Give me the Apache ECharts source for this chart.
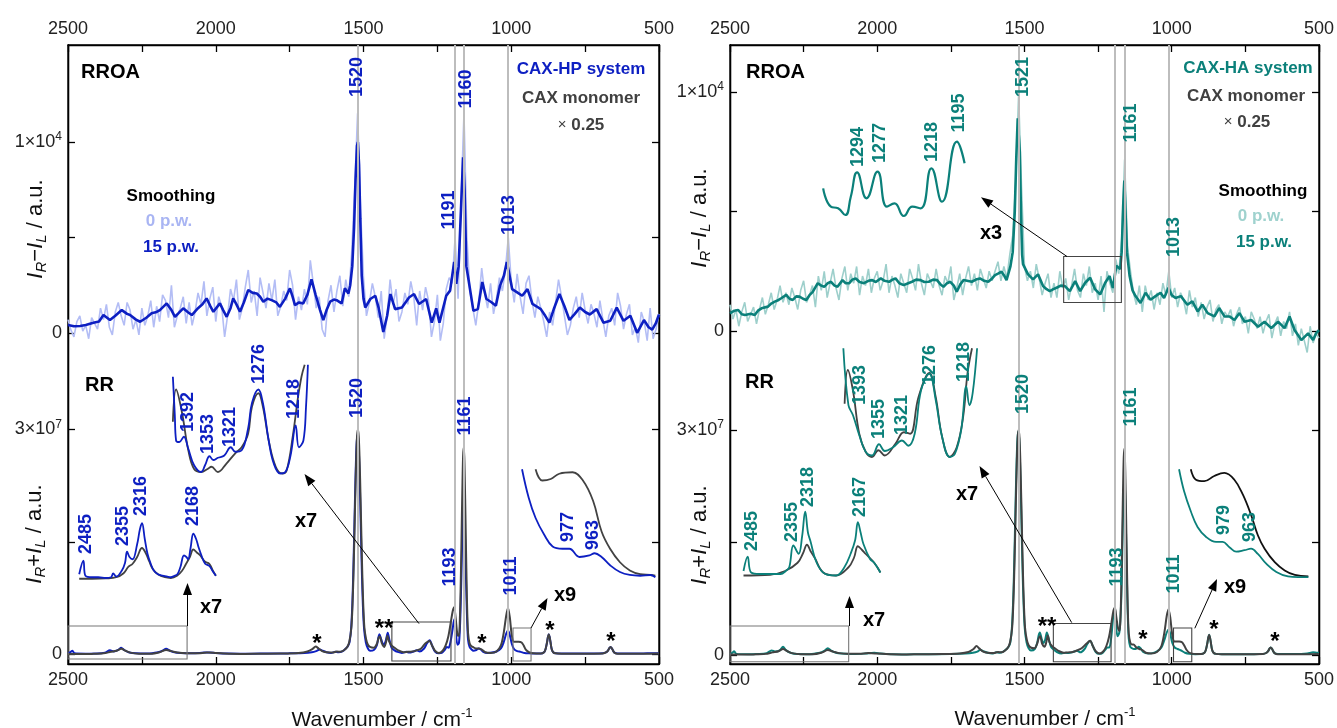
<!DOCTYPE html>
<html><head><meta charset="utf-8">
<script src="https://cdn.jsdelivr.net/npm/echarts@6/dist/echarts.min.js"></script>
<style>html,body{margin:0;padding:0;background:#fff}#c{width:1337px;height:728px}</style>
</head><body><div id="c"></div>
<script>
// ---------------- DATA ----------------
const wnTicks = [2500,2250,2000,1750,1500,1250,1000,750,500];
const wnLabels = [2500,2000,1500,1000,500];
const rroaTicks = [0,5000,10000];
const rroaLabels = [0,10000];
const rrTicks = [0,15,30];      // x10^6
const rrLabels = [0,30];
const linesL = [1520,1191,1160,1013];
const linesR = [1521,1193,1161,1011];

// RROA raw (0 p.w.), sampled every 10 cm-1 from 2500 down to 500
const rawStart = 2500, rawStep = 10;
const rroaRawL = [
700,150,-200,600,900,100,400,-300,800,500,
200,1300,700,1500,300,-100,1100,1600,900,400,
1600,1200,200,700,-100,1300,400,900,1700,300,
1400,600,2000,1700,800,2500,300,900,1300,1900,
500,1600,400,1100,2100,1500,2700,900,1800,2400,
600,1900,1400,-200,900,2300,1700,2800,700,1300,
2400,3300,1600,2200,900,2900,2100,1300,2600,1700,
2800,900,1400,2200,1700,3300,2500,700,1900,1200,
2300,1500,3800,2600,1300,1900,200,-200,1700,2500,
1100,2200,3000,1400,2800,1900,4200,7500,11500,6500,
2900,900,1600,2600,1900,800,2200,-300,900,2800,
1500,2300,600,1100,2100,1500,2700,1900,400,2200,
1200,2400,1700,-200,600,2000,-400,500,2300,2900,
2600,5000,1800,6800,11500,5000,2200,1300,400,1600,
3400,2100,1300,2600,1000,1800,2900,2200,3300,5000,
2700,1600,3100,1900,1000,2600,3000,1700,800,1900,
1300,600,-200,1100,400,1600,2800,1900,900,-100,
400,1300,1900,800,2100,1200,500,1500,1000,300,
1700,700,-200,900,1300,400,2100,1400,200,1000,
1500,-100,300,-500,1100,600,-400,1300,-300,200,
1000];
const rroaRawR = [
1100,500,900,200,800,1200,400,700,1000,300,
900,1400,700,1100,1600,900,1300,1900,1200,1600,
1100,1800,1400,900,1700,2100,1200,1500,1900,1000,
2300,1700,2500,1400,2000,2600,1800,1300,2200,2700,
1700,2400,2000,2700,1500,2300,1900,2600,1600,2200,
2500,1700,2100,2800,1600,2300,1900,1400,2400,2000,
1600,2600,2200,1700,2800,2000,1500,2400,2100,1800,
2600,1900,1500,2300,2000,2700,1300,1800,2400,1500,
2200,2700,1900,2400,1700,2600,2200,1800,2500,2100,
2500,2900,2100,2700,2200,3200,4000,6200,9870,6000,
2700,2100,2500,1800,2800,2200,1500,2000,2400,1400,
2000,1400,2500,1800,2200,1300,1900,2600,1700,1400,
2400,1900,2700,1600,2000,1300,2300,800,2500,2000,
1600,3000,2400,3800,7180,3500,2500,1600,1100,1900,
800,1900,1300,1700,900,1600,1100,2000,1500,2500,
1400,1800,1000,1600,1300,700,1700,1000,1400,600,
1200,500,1000,1300,400,900,1100,300,800,600,
900,200,700,1000,300,600,-100,800,500,100,
600,-100,400,700,-300,300,600,-200,400,100,
800,-200,300,-600,100,-400,-900,200,-500,-100,
-300];

// RROA smoothed (15 p.w.)
const rroaSmoothL = [[2500,420],[2480,350],[2459,370],[2440,420],[2414,540],[2395,600],[2380,940],[2358,680],[2340,900],[2318,1200],[2300,1000],[2290,940],[2270,700],[2256,590],[2235,800],[2217,1030],[2200,1100],[2189,1200],[2166,1550],[2150,1200],[2138,850],[2125,1050],[2110,1290],[2095,1100],[2081,940],[2060,1300],[2045,1500],[2031,1810],[2018,1400],[2008,1110],[1986,1550],[1975,1200],[1963,850],[1950,1300],[1941,1810],[1930,1500],[1918,1110],[1905,1600],[1890,2250],[1875,2100],[1861,2070],[1850,1900],[1839,1640],[1825,1800],[1811,1720],[1795,1600],[1783,1370],[1765,1800],[1749,2340],[1740,1900],[1732,1460],[1718,1600],[1704,1550],[1690,2000],[1676,2810],[1662,2000],[1647,1200],[1636,680],[1625,1200],[1613,1640],[1600,1750],[1591,1720],[1574,1550],[1563,2340],[1551,2070],[1545,2500],[1538,3500],[1532,5500],[1527,8000],[1522,9800],[1519,10000],[1515,8800],[1511,6000],[1506,3000],[1500,1800],[1494,1330],[1477,1780],[1460,1950],[1449,1330],[1433,50],[1420,900],[1409,2040],[1393,1250],[1370,1330],[1346,1860],[1329,2040],[1312,1520],[1288,1780],[1269,540],[1254,1290],[1243,540],[1220,1950],[1207,2220],[1197,3300],[1193,3720],[1186,2570],[1178,3500],[1170,6500],[1163,9200],[1158,7500],[1152,3500],[1145,2830],[1128,1160],[1113,1250],[1098,2670],[1084,1780],[1067,1610],[1052,1430],[1038,2480],[1025,3000],[1015,3720],[1008,3200],[997,2300],[980,2130],[963,1950],[945,2300],[928,1520],[915,1400],[900,1250],[885,900],[871,540],[855,1300],[837,2040],[820,1400],[803,680],[785,1000],[768,1330],[750,1100],[734,970],[711,1250],[688,540],[665,640],[643,1330],[620,640],[597,900],[574,10],[551,680],[535,300],[523,180],[511,500],[500,970]];
const rroaSmoothR = [[2500,740],[2485,850],[2472,880],[2460,700],[2449,670],[2430,720],[2416,670],[2405,850],[2393,950],[2371,1020],[2360,1150],[2348,1230],[2335,1300],[2326,1370],[2309,1510],[2298,1350],[2287,1300],[2275,1450],[2264,1440],[2252,1350],[2241,1300],[2230,1500],[2219,1640],[2202,2000],[2190,1900],[2180,1850],[2168,2000],[2157,2060],[2145,1900],[2135,1850],[2118,2130],[2107,2000],[2095,2000],[2085,2150],[2073,2200],[2060,2050],[2045,2000],[2030,2100],[2017,2130],[2005,2050],[1988,2200],[1975,2100],[1960,2060],[1948,2150],[1938,2200],[1925,2000],[1910,1920],[1895,2000],[1882,2060],[1868,2150],[1853,2130],[1840,2050],[1825,2060],[1810,2150],[1797,2130],[1785,1950],[1775,1850],[1763,2000],[1752,2060],[1740,1900],[1730,1640],[1718,1950],[1707,2130],[1695,2100],[1679,2060],[1665,2150],[1651,2200],[1637,2100],[1623,2060],[1610,2200],[1600,2340],[1590,2400],[1578,2480],[1568,2300],[1561,2130],[1548,2690],[1540,3300],[1533,5000],[1528,7200],[1523,8900],[1520,8970],[1516,7500],[1512,5000],[1508,3200],[1505,2800],[1488,2370],[1471,2160],[1454,2370],[1437,1880],[1425,1750],[1414,1670],[1402,1750],[1391,1810],[1377,1900],[1363,1880],[1346,1670],[1336,1900],[1328,2090],[1311,1670],[1294,2020],[1277,2230],[1260,1740],[1243,1530],[1226,2020],[1211,2300],[1200,1800],[1188,2730],[1175,2590],[1170,3300],[1165,5200],[1161,6300],[1157,5000],[1152,3300],[1143,2300],[1133,1700],[1123,1460],[1106,1170],[1089,1600],[1072,1310],[1055,1460],[1038,1600],[1026,1380],[1011,1810],[1000,1500],[987,1380],[969,1460],[947,1100],[930,1240],[912,820],[896,1100],[878,750],[855,610],[839,960],[821,610],[804,610],[787,460],[770,750],[753,390],[730,460],[707,180],[685,390],[662,120],[639,390],[617,120],[600,610],[583,40],[560,-380],[537,-100],[520,-380],[510,-100],[500,40]];

// RR spectra (x10^6 a.u.)
const rrHP = [[2500,0.15],[2492,0.3],[2485,0.5],[2478,0.15],[2440,0.1],[2400,0.12],[2375,0.25],[2358,0.55],[2345,0.4],[2330,0.6],[2320,0.9],[2310,0.6],[2295,0.3],[2270,0.15],[2230,0.12],[2195,0.3],[2180,0.5],[2168,0.75],[2155,0.5],[2140,0.3],[2120,0.2],[2080,0.15],[2040,0.25],[2020,0.28],[2000,0.2],[1960,0.12],[1900,0.1],[1850,0.12],[1800,0.12],[1750,0.15],[1700,0.2],[1675,0.3],[1660,0.45],[1648,0.65],[1638,0.5],[1625,0.3],[1610,0.2],[1595,0.35],[1585,0.3],[1570,0.45],[1560,0.8],[1553,1.1],[1547,1.7],[1542,3.4],[1538,6.5],[1535,10.3],[1532,15.1],[1529,20.4],[1526,25.1],[1523,28.3],[1520,29.3],[1517,28.3],[1514,25.1],[1511,20.4],[1508,15.1],[1505,10.3],[1502,6.5],[1498,3.4],[1492,1.6],[1485,0.8],[1478,0.5],[1465,0.6],[1455,1.2],[1450,2.2],[1446,2.7],[1440,2.0],[1432,1.3],[1425,1.8],[1418,2.9],[1412,1.9],[1405,0.9],[1395,0.55],[1385,0.35],[1370,0.2],[1355,0.35],[1345,0.25],[1330,0.4],[1320,0.55],[1310,0.4],[1295,0.8],[1285,1.5],[1276,1.9],[1268,1.2],[1258,0.4],[1245,0.15],[1235,0.2],[1225,0.6],[1218,1.0],[1212,0.9],[1205,1.8],[1198,3.5],[1193,4.7],[1188,3.2],[1182,1.3],[1177,1.5],[1173,4.2],[1171,6.8],[1169,10],[1167,13.5],[1165,16.7],[1163,19.1],[1161,19.9],[1159,19.1],[1157,16.7],[1155,13.5],[1153,10],[1151,6.8],[1149,4.2],[1146,1.9],[1141,1.0],[1135,0.7],[1128,0.5],[1118,0.6],[1110,0.8],[1104,0.7],[1095,0.35],[1080,0.2],[1065,0.25],[1050,0.4],[1035,0.8],[1025,1.7],[1017,2.8],[1011,3.2],[1005,2.6],[998,1.4],[990,0.7],[980,0.45],[968,0.35],[955,0.2],[940,0.15],[920,0.12],[900,0.12],[889,0.3],[884,0.7],[879,1.6],[876,2.3],[873,2.7],[870,2.3],[867,1.6],[863,0.7],[858,0.3],[850,0.15],[830,0.12],[780,0.12],[720,0.12],[690,0.15],[678,0.3],[672,0.55],[668,0.85],[664,1.0],[660,0.85],[656,0.55],[651,0.25],[640,0.12],[580,0.12],[540,0.15],[500,0.18]];
const rrMonoL = [[2500,0.05],[2470,0.05],[2420,0.08],[2380,0.15],[2355,0.35],[2335,0.5],[2320,0.75],[2305,0.5],[2290,0.25],[2260,0.1],[2220,0.1],[2190,0.3],[2168,0.6],[2150,0.45],[2130,0.25],[2100,0.15],[2060,0.15],[2030,0.25],[2000,0.2],[1950,0.1],[1900,0.08],[1850,0.1],[1780,0.12],[1720,0.2],[1690,0.4],[1672,0.75],[1662,1.05],[1652,0.8],[1640,0.45],[1625,0.3],[1605,0.25],[1590,0.4],[1578,0.35],[1565,0.6],[1555,1.0],[1548,1.7],[1541,3.6],[1537,6.8],[1534,10.6],[1531,15.5],[1528,20.9],[1525,25.7],[1522,29],[1519,30],[1516,29],[1513,25.7],[1510,20.9],[1507,15.5],[1504,10.6],[1501,6.8],[1497,3.6],[1491,2.0],[1485,1.3],[1478,1.0],[1465,0.9],[1455,1.4],[1449,2.2],[1445,2.4],[1438,1.5],[1430,1.0],[1424,1.6],[1419,2.5],[1413,1.7],[1405,1.2],[1395,0.9],[1380,0.5],[1365,0.3],[1350,0.35],[1335,0.4],[1320,0.55],[1305,0.8],[1290,1.5],[1277,1.8],[1268,1.2],[1258,0.5],[1245,0.2],[1232,0.5],[1222,1.2],[1213,2.4],[1205,4.2],[1198,5.8],[1193,6.3],[1188,4.8],[1182,2.6],[1177,2.5],[1174,4.5],[1171,9.4],[1169,13.8],[1167,18.6],[1165,23],[1163,26.4],[1161,27.6],[1159,26.4],[1157,23],[1155,18.6],[1153,13.8],[1151,9.4],[1149,5.8],[1146,2.8],[1141,1.5],[1135,1.1],[1130,1.0],[1120,0.8],[1110,0.8],[1104,0.75],[1098,0.6],[1088,0.3],[1070,0.2],[1050,0.4],[1035,1.2],[1025,3.0],[1017,5.2],[1011,6.2],[1005,5.0],[999,2.8],[992,1.7],[985,1.7],[975,1.7],[965,1.6],[958,1.2],[950,0.6],[940,0.3],[925,0.15],[900,0.12],[889,0.3],[884,0.7],[879,1.6],[876,2.3],[873,2.7],[870,2.3],[867,1.6],[863,0.7],[858,0.3],[850,0.15],[830,0.1],[780,0.1],[720,0.1],[690,0.12],[678,0.3],[672,0.55],[668,0.85],[664,1.0],[660,0.85],[656,0.55],[651,0.25],[640,0.1],[580,0.1],[540,0.1],[500,0.12]];
const rrHA = [[2500,0.1],[2492,0.3],[2486,0.5],[2478,0.15],[2440,0.1],[2400,0.12],[2375,0.25],[2359,0.6],[2345,0.45],[2330,0.65],[2320,1.1],[2310,0.65],[2295,0.3],[2270,0.12],[2230,0.1],[2195,0.3],[2180,0.55],[2168,0.9],[2155,0.55],[2140,0.3],[2120,0.2],[2080,0.12],[2040,0.2],[2010,0.3],[1990,0.2],[1950,0.1],[1900,0.08],[1850,0.1],[1800,0.1],[1750,0.12],[1700,0.2],[1675,0.3],[1660,0.45],[1650,0.7],[1640,0.5],[1625,0.3],[1610,0.2],[1595,0.35],[1585,0.3],[1572,0.45],[1561,0.8],[1554,1.1],[1548,1.7],[1543,3.5],[1539,6.7],[1536,10.5],[1533,15.4],[1530,20.8],[1527,25.5],[1524,28.8],[1521,29.8],[1518,28.8],[1515,25.5],[1512,20.8],[1509,15.4],[1506,10.5],[1503,6.7],[1499,3.5],[1493,1.7],[1486,0.9],[1478,0.6],[1465,0.8],[1457,1.6],[1452,2.6],[1448,3.0],[1442,2.2],[1436,1.6],[1430,2.0],[1424,3.0],[1418,2.2],[1410,1.1],[1400,0.7],[1390,0.4],[1375,0.2],[1360,0.3],[1350,0.25],[1335,0.4],[1322,0.55],[1310,0.35],[1296,0.8],[1286,1.5],[1277,1.9],[1268,1.2],[1258,0.4],[1246,0.15],[1236,0.25],[1226,0.7],[1218,1.0],[1212,1.0],[1205,2.5],[1199,5.0],[1195,5.7],[1190,4.2],[1184,2.5],[1178,3.0],[1174,5.0],[1171,7.9],[1169,11.7],[1167,15.7],[1165,19.5],[1163,22.4],[1161,23.3],[1159,22.4],[1157,19.5],[1155,15.7],[1153,11.7],[1151,7.9],[1149,4.9],[1146,2.2],[1141,1.1],[1135,0.9],[1128,0.8],[1118,0.9],[1112,1.1],[1106,0.9],[1097,0.4],[1080,0.2],[1065,0.25],[1050,0.5],[1035,1.0],[1025,2.0],[1017,3.0],[1011,3.4],[1005,2.8],[998,1.6],[990,1.0],[980,0.8],[968,0.6],[955,0.3],[940,0.15],[920,0.1],[900,0.12],[889,0.3],[884,0.7],[879,1.6],[876,2.3],[873,2.7],[870,2.3],[867,1.6],[863,0.7],[858,0.3],[850,0.15],[830,0.1],[780,0.1],[720,0.1],[690,0.15],[678,0.3],[672,0.55],[668,0.85],[664,1.0],[660,0.85],[656,0.55],[651,0.25],[640,0.12],[580,0.12],[540,0.2],[520,0.35],[505,0.3],[500,0.3]];
const rrMonoR = [[2500,0.05],[2470,0.05],[2420,0.08],[2380,0.15],[2355,0.35],[2335,0.5],[2320,0.8],[2305,0.5],[2290,0.25],[2260,0.1],[2220,0.1],[2190,0.3],[2168,0.65],[2150,0.45],[2130,0.25],[2100,0.15],[2060,0.15],[2030,0.25],[2000,0.2],[1950,0.1],[1900,0.08],[1850,0.1],[1780,0.12],[1720,0.2],[1690,0.4],[1673,0.8],[1663,1.2],[1653,0.85],[1640,0.45],[1625,0.3],[1605,0.25],[1590,0.4],[1578,0.35],[1566,0.6],[1556,1.0],[1549,1.7],[1542,3.6],[1538,6.8],[1535,10.6],[1532,15.5],[1529,20.9],[1526,25.7],[1523,29],[1520,30],[1517,29],[1514,25.7],[1511,20.9],[1508,15.5],[1505,10.6],[1502,6.8],[1498,3.6],[1492,2.0],[1486,1.3],[1479,1.0],[1466,0.9],[1457,1.5],[1451,2.3],[1447,2.5],[1440,1.5],[1432,1.1],[1426,1.7],[1421,2.6],[1415,1.7],[1407,1.2],[1397,0.9],[1382,0.5],[1367,0.3],[1352,0.35],[1337,0.4],[1322,0.6],[1306,0.9],[1290,1.5],[1277,1.9],[1268,1.2],[1258,0.5],[1245,0.2],[1232,0.5],[1222,1.2],[1213,2.4],[1205,4.2],[1198,5.9],[1193,6.3],[1188,5.0],[1182,3.5],[1177,3.2],[1174,5.0],[1171,9.4],[1169,13.8],[1167,18.5],[1165,22.9],[1163,26.3],[1161,27.5],[1159,26.3],[1157,22.9],[1155,18.5],[1153,13.8],[1151,9.4],[1149,5.8],[1146,2.9],[1141,1.7],[1135,1.4],[1130,1.4],[1120,1.0],[1110,0.8],[1104,0.75],[1098,0.6],[1088,0.3],[1070,0.2],[1050,0.4],[1035,1.2],[1025,3.0],[1017,5.2],[1011,6.1],[1005,5.0],[999,2.9],[992,1.8],[985,1.8],[975,1.8],[965,1.7],[958,1.3],[950,0.7],[940,0.3],[925,0.15],[900,0.12],[889,0.3],[884,0.7],[879,1.6],[876,2.3],[873,2.7],[870,2.3],[867,1.6],[863,0.7],[858,0.3],[850,0.15],[830,0.1],[780,0.1],[720,0.1],[690,0.12],[678,0.3],[672,0.55],[668,0.85],[664,1.0],[660,0.85],[656,0.55],[651,0.25],[640,0.1],[580,0.1],[540,0.1],[500,0.12]];

// Insets: [true wavenumber, magnified intensity above inset baseline]
const insAL_HP = [[2497,0.5],[2485,2.3],[2479,0.3],[2460,0.1],[2442,0.1],[2420,0.0],[2405,0.1],[2399,0.6],[2390,0.2],[2374,1.0],[2365,2.0],[2359,3.5],[2352,2.8],[2343,2.5],[2330,4.5],[2322,6.5],[2316,7.3],[2308,5.2],[2300,3.2],[2290,1.8],[2282,1.0],[2270,0.5],[2257,0.3],[2245,0.2],[2233,0.1],[2222,0.3],[2214,0.5],[2205,1.5],[2195,3.0],[2188,2.8],[2183,2.5],[2176,4.0],[2168,5.9],[2160,5.2],[2153,4.1],[2143,2.8],[2134,1.9],[2122,1.6],[2112,0.9],[2103,0.3]];
const insAL_M = [[2497,-0.1],[2460,-0.1],[2420,-0.05],[2390,0.1],[2370,0.6],[2355,1.5],[2343,1.9],[2330,2.8],[2316,4.0],[2305,3.3],[2295,2.2],[2285,1.2],[2270,0.5],[2250,0.1],[2233,0.0],[2215,0.3],[2200,1.0],[2190,1.8],[2178,2.8],[2168,3.8],[2158,3.4],[2148,3.0],[2135,2.2],[2122,1.9],[2112,1.0],[2103,0.3]];
const insBL_HP = [[1409,13.1],[1406,8.0],[1404,4.6],[1399,4.4],[1392,5.1],[1385,3.5],[1376,1.3],[1365,0.4],[1359,1.3],[1352,2.5],[1346,2.0],[1339,2.3],[1329,2.6],[1319,3.7],[1312,3.1],[1302,3.3],[1292,6.2],[1286,9.6],[1276,11.4],[1269,9.6],[1260,4.6],[1252,1.5],[1242,0.2],[1234,0.4],[1226,2.6],[1218,6.6],[1213,3.7],[1206,4.6],[1202,9],[1199,14.7]];
const insBL_M = [[1409,7.1],[1404,11.4],[1395,8.4],[1385,3.3],[1376,0.8],[1365,0.4],[1355,0.8],[1349,1.1],[1339,0.4],[1326,1.5],[1312,2.9],[1302,3.7],[1292,5.5],[1286,9.1],[1276,10.9],[1269,9.1],[1259,4.2],[1249,1.1],[1239,0.2],[1232,0.6],[1222,5.5],[1215,10.0],[1209,13.1],[1204,14.7]];
const insCL_HP = [[994.6,14.5],[991.7,10.7],[988.7,8.0],[985,5.8],[981.3,4.2],[977,3.9],[974,3.9],[969.6,2.8],[965.3,3.0],[963,3.3],[960,2.8],[956.3,1.7],[952,0.8],[947.7,0.4],[943.2,0.3],[938.8,0.4],[936.6,0.1]];
const insCL_M = [[988.7,14.5],[985.8,13.0],[982.1,13.2],[978.4,13.9],[972.6,14.1],[968.1,13.0],[963.7,10.3],[960,6.2],[956.3,3.9],[952,2.1],[947.7,1.0],[943.2,0.5],[938.8,0.4],[936.6,0.3]];
const insAR_HA = [[2497,0.4],[2485,2.3],[2475,0.2],[2450,0.0],[2421,0.0],[2390,0.0],[2375,0.4],[2365,0.9],[2353,3.8],[2338,2.7],[2328,5.0],[2319,8.3],[2311,5.5],[2304,4.4],[2286,1.5],[2261,0.0],[2230,-0.2],[2206,0.9],[2188,2.7],[2175,4.5],[2167,6.9],[2159,5.5],[2151,4.0],[2132,2.0],[2120,1.5],[2102,0.2]];
const insAR_M = [[2497,-0.2],[2420,-0.1],[2377,0.4],[2341,1.5],[2325,2.8],[2314,3.9],[2303,3.0],[2292,2.2],[2267,0.2],[2230,-0.2],[2194,0.9],[2178,2.2],[2167,3.7],[2155,3.2],[2145,2.7],[2120,1.5],[2102,0.2]];
const insBR_HA = [[1411,14.5],[1403,6.9],[1396,5.6],[1386,2.9],[1376,0.7],[1366,0.2],[1355,1.7],[1346,0.8],[1333,1.3],[1319,2.2],[1309,1.5],[1299,3.1],[1289,8.9],[1276,11.1],[1266,7.6],[1256,2.7],[1244,0],[1236,0.4],[1226,3.6],[1218,9.4],[1213,6.9],[1208,8.5],[1201,14.5]];
const insBR_M = [[1409,7.1],[1404,11.6],[1396,8.9],[1386,3.1],[1376,0.7],[1366,0],[1356,0.9],[1346,0.2],[1329,1.8],[1316,3.3],[1306,3.1],[1293,8.0],[1276,11.2],[1266,8.0],[1256,2.7],[1244,0],[1233,1.3],[1223,5.3],[1216,11.2],[1209,14.5]];
const insCR_HA = [[1003.5,14.5],[1000.7,11.6],[996.9,8.9],[993.1,6.8],[988.4,5.5],[982.7,4.8],[979,4.8],[975.2,4.1],[971.4,3.5],[966.7,3.7],[963,3.9],[959.2,3.2],[954.5,1.9],[948.8,0.8],[942.2,0.2],[936.5,0.1],[930.8,0.1]];
const insCR_M = [[996.9,14.5],[994,13.1],[989.3,12.9],[983.7,13.6],[978,14.0],[972.4,13.1],[967.6,11.1],[963,8.4],[959.2,5.7],[955.4,3.9],[949.7,2.1],[944.1,1.0],[938.4,0.4],[930.8,0.2]];
const insRROA_HA = [[1327.7,1159],[1320.1,389],[1312.9,322],[1305.8,42],[1300.3,808],[1294,1828],[1284.7,741],[1273.8,1853],[1264.4,389],[1257,531],[1247.7,0],[1239.2,389],[1230.8,322],[1220.3,1996],[1209.8,598],[1195,3109],[1187.4,2205]];

// ---------------- STYLE / LAYOUT ----------------
const FONT = '"Liberation Sans", Arial, Helvetica, sans-serif';
const C = {blue:'#0D1FC2', lblue:'#B3BDF5', teal:'#0B807A', lteal:'#9DCFCB', gray:'#424242', black:'#111111', vline:'#BDBDBD', txtgray:'#404040'};
// inset placement: [W0 (true wn), X0 (display wn), sx, Y0 (display baseline)]
const PL = {
  AL:[2485,2448,1.174,10.2], BL:[1392,2108.1,2.176,23.93], CL:[977,826.6,7.78,10.2],
  AR:[2485,2440,1.177,10.8], BR:[1276,1823.1,2.163,26.4], CR:[979,827.2,6.04,10.27],
  RR:[1294,2068.3,3.423,4812]
};
function place(arr, p){ return arr.map(d => [p[1] + (d[0]-p[0])*p[2], p[3] + d[1]]); }
function rawXY(arr){ return arr.map((v,i) => [rawStart - rawStep*i, v]); }

function xAx(grid, pos){
  return {type:'value', gridIndex:grid, position:pos, min:500, max:2500, inverse:true,
    axisLine:{show:true, onZero:false, lineStyle:{color:'#000', width:1.3}},
    axisTick:{show:true, inside:true, length:7, customValues:wnTicks, lineStyle:{color:'#000', width:1.3}},
    axisLabel:{show:true, customValues:wnLabels, formatter:v=>String(v), fontSize:18, color:'#222', fontFamily:FONT, margin:7},
    splitLine:{show:false}};
}
function yAx(grid, pos, min, max, ticks, labels, fmt){
  return {type:'value', gridIndex:grid, position:pos, min, max,
    axisLine:{show:true, onZero:false, lineStyle:{color:'#000', width:1.3}},
    axisTick:{show:true, inside:true, length:7, customValues:ticks, lineStyle:{color:'#000', width:1.3}},
    axisLabel:{show:pos==='left', customValues:labels, formatter:fmt, fontSize:18, color:'#222', fontFamily:FONT, margin:6, lineHeight:22,
      rich:{sup:{fontSize:12, lineHeight:10, verticalAlign:'top', color:'#222', fontFamily:FONT}}},
    splitLine:{show:false}};
}
const fmtROA = v => v===10000 ? '1×10{sup|4}' : String(v);
const fmtRR = v => v===30 ? '3×10{sup|7}' : String(v);

function ln(xi, yi, data, color, width, z, smooth){
  return {type:'line', xAxisIndex:xi, yAxisIndex:yi, data, showSymbol:false, symbol:'none',
    lineStyle:{color, width}, itemStyle:{color}, z, smooth:smooth||false, silent:true, animation:false};
}
function vlines(xi, yi, arr){
  return {type:'line', xAxisIndex:xi, yAxisIndex:yi, data:[], z:1, silent:true, animation:false,
    markLine:{silent:true, symbol:['none','none'], label:{show:false}, animation:false,
      lineStyle:{color:C.vline, width:2, type:'solid'}, data:arr.map(v=>({xAxis:v}))}};
}

const option = {
  animation:false,
  backgroundColor:'#fff',
  textStyle:{fontFamily:FONT},
  grid:[
    {left:68, top:45, width:591, height:619, show:true, borderColor:'#000', borderWidth:1.3},
    {left:68, top:45, width:591, height:619},
    {left:730, top:45, width:593, height:619, show:true, borderColor:'#000', borderWidth:1.3},
    {left:730, top:45, width:593, height:619}
  ],
  xAxis:[xAx(0,'top'), xAx(1,'bottom'), xAx(2,'top'), xAx(3,'bottom')],
  yAxis:[
    yAx(0,'left',-17330,15079,rroaTicks,rroaLabels,fmtROA),
    yAx(0,'right',-17330,15079,rroaTicks,rroaLabels,fmtROA),
    yAx(1,'left',-1.27,81.27,rrTicks,rrLabels,fmtRR),
    yAx(1,'right',-1.27,81.27,rrTicks,rrLabels,fmtRR),
    yAx(2,'left',-13933,11967,rroaTicks,rroaLabels,fmtROA),
    yAx(2,'right',-13933,11967,rroaTicks,rroaLabels,fmtROA),
    yAx(3,'left',-1.2,81.33,rrTicks,rrLabels,fmtRR),
    yAx(3,'right',-1.2,81.33,rrTicks,rrLabels,fmtRR)
  ],
  series:[
    vlines(0,0,linesL), vlines(2,4,linesR),
    ln(0,0,rawXY(rroaRawL),C.lblue,1.6,2),
    ln(0,0,rroaSmoothL,C.blue,2.6,3),
    ln(2,4,rawXY(rroaRawR),C.lteal,1.6,2),
    ln(2,4,rroaSmoothR,C.teal,2.6,3),
    ln(2,4,place(insRROA_HA,PL.RR),C.teal,2.2,4,0.5),
    ln(1,2,rrHP,C.blue,2,3,0.3),
    ln(1,2,rrMonoL,C.gray,2,4,0.3),
    ln(1,2,place(insAL_M,PL.AL),C.gray,1.8,4,0.4),
    ln(1,2,place(insAL_HP,PL.AL),C.blue,1.8,5,0.4),
    ln(1,2,place(insBL_M,PL.BL),C.gray,1.8,4,0.4),
    ln(1,2,place(insBL_HP,PL.BL),C.blue,1.8,5,0.4),
    ln(1,2,place(insCL_M,PL.CL),C.gray,1.8,4,0.4),
    ln(1,2,place(insCL_HP,PL.CL),C.blue,1.8,5,0.4),
    ln(3,6,rrHA,C.teal,2,3,0.3),
    ln(3,6,rrMonoR,C.gray,2,4,0.3),
    ln(3,6,place(insAR_M,PL.AR),C.gray,1.8,4,0.4),
    ln(3,6,place(insAR_HA,PL.AR),C.teal,1.8,5,0.4),
    ln(3,6,place(insBR_M,PL.BR),C.gray,1.8,4,0.4),
    ln(3,6,place(insBR_HA,PL.BR),C.teal,1.8,5,0.4),
    ln(3,6,place(insCR_M,PL.CR),C.black,1.8,4,0.4),
    ln(3,6,place(insCR_HA,PL.CR),C.teal,1.8,5,0.4)
  ]
};

const chart = echarts.init(document.getElementById('c'));
chart.setOption(option);

// ---------------- ANNOTATIONS ----------------
const boxes = [
  {xi:1, yi:2, w:[2500,2097], v:[-0.6,3.8], c:'#777'},
  {xi:1, yi:2, w:[1404,1204], v:[-0.87,4.33], c:'#444'},
  {xi:1, yi:2, w:[994,933], v:[-0.87,3.53], c:'#777'},
  {xi:3, yi:6, w:[2500,2097], v:[-0.9,3.87], c:'#777'},
  {xi:3, yi:6, w:[1402,1206], v:[-0.9,4.2], c:'#444'},
  {xi:3, yi:6, w:[994,932], v:[-0.9,3.6], c:'#444'},
  {xi:2, yi:4, w:[1367,1171], v:[1192,3117], c:'#444'}
];
const arrows = [
  [187.5,626,187.5,583],[419,623.6,304.5,474],[531,628,547.5,598],
  [849.5,626,849.5,596],[1071.7,622.6,979.5,466],[1194.8,628.3,1217,579],
  [1067,256.5,981,197.3]
];
const texts = [];
function T(t,x,y,o){ texts.push(Object.assign({t,x,y},o||{})); }
function P(t,x,y,c,s){ T(t,x,y,{c,rot:true,s:s||18}); }
T('RROA',81,72,{a:'left',s:20}); T('RR',85,385,{a:'left',s:20});
T('CAX-HP system',581,69,{c:C.blue,s:17});
T('CAX monomer',581,98,{c:C.txtgray,s:17});
T('{x|×} {b|0.25}',581,125,{c:C.txtgray,s:17,rich:{x:{fontSize:15,fontWeight:'normal',fill:C.txtgray,fontFamily:FONT},b:{fontSize:17,fontWeight:'bold',fill:C.txtgray,fontFamily:FONT}}});
T('Smoothing',171,196,{s:17}); T('0 p.w.',169,221,{c:'#A9B5F3',s:17}); T('15 p.w.',171,247,{c:C.blue,s:17});
T('RROA',746,72,{a:'left',s:20}); T('RR',745,382,{a:'left',s:20});
T('CAX-HA system',1248,68,{c:C.teal,s:17});
T('CAX monomer',1246,96,{c:C.txtgray,s:17});
T('{x|×} {b|0.25}',1247,122,{c:C.txtgray,s:17,rich:{x:{fontSize:15,fontWeight:'normal',fill:C.txtgray,fontFamily:FONT},b:{fontSize:17,fontWeight:'bold',fill:C.txtgray,fontFamily:FONT}}});
T('Smoothing',1263,191,{s:17}); T('0 p.w.',1261,216,{c:'#9FD2CE',s:17}); T('15 p.w.',1264,242,{c:C.teal,s:17});
T('x7',211,607,{s:20}); T('x7',306,521,{s:20}); T('x9',565,595,{s:20});
T('x7',874,620,{s:20}); T('x7',967,494,{s:20}); T('x9',1235,587,{s:20}); T('x3',991,233,{s:20});
[[317,638],[384,623],[482,638],[550,625],[611,636],[1047,621],[1143,634],[1214,624],[1275,636]].forEach((p,i)=>{
  T((i===1||i===5)?'**':'*',p[0],p[1]+6,{s:24});
});
P('1520',357,77,C.blue); P('1160',466,89,C.blue); P('1191',449,210,C.blue); P('1013',509,215,C.blue);
P('1520',357,398,C.blue); P('1161',465,416,C.blue); P('1193',450,567,C.blue); P('1011',511,576,C.blue);
P('2485',86,534,C.blue); P('2355',123,526,C.blue); P('2316',141,496,C.blue); P('2168',193,506,C.blue);
P('1392',188,412,C.blue); P('1353',208,434,C.blue); P('1321',230,427,C.blue); P('1276',259,364,C.blue); P('1218',294,399,C.blue);
P('977',568,527,C.blue); P('963',593,535,C.blue);
P('1521',1023,77,C.teal); P('1161',1131,123,C.teal); P('1013',1174,237,C.teal);
P('1294',858,147,C.teal); P('1277',880,143,C.teal); P('1218',932,142,C.teal); P('1195',959,113,C.teal);
P('1520',1023,394,C.teal); P('1161',1131,407,C.teal); P('1193',1117,567,C.teal); P('1011',1174,574,C.teal);
P('2485',752,531,C.teal); P('2355',792,522,C.teal); P('2318',808,487,C.teal); P('2167',860,497,C.teal);
P('1393',860,385,C.teal); P('1355',879,419,C.teal); P('1321',902,415,C.teal); P('1276',930,365,C.teal); P('1218',964,362,C.teal);
P('979',1224,520,C.teal); P('963',1250,527,C.teal);

const richY = {
  i:{fontSize:22, fontStyle:'italic', lineHeight:26, fill:'#111', fontFamily:FONT},
  s:{fontSize:15, fontStyle:'italic', lineHeight:10, verticalAlign:'bottom', fill:'#111', fontFamily:FONT},
  n:{fontSize:22, lineHeight:26, fill:'#111', fontFamily:FONT}
};
const titleMinus = '{i|I}{s|R}{n|−}{i|I}{s|L}{n| / a.u.}';
const titlePlus = '{i|I}{s|R}{n|+}{i|I}{s|L}{n| / a.u.}';
const richX = {n:{fontSize:21, lineHeight:26, fill:'#111', fontFamily:FONT}, sup:{fontSize:13, lineHeight:12, verticalAlign:'top', fill:'#111', fontFamily:FONT}};

const graphic = [];
texts.forEach(o=>{
  graphic.push({type:'text', x:o.x, y:o.y, rotation:o.rot?Math.PI/2:0, silent:true, z:60,
    style:{text:o.t, fill:o.c||'#000', fontSize:o.s||18, fontWeight:'bold', fontFamily:FONT,
      align:o.a||'center', verticalAlign:'middle', rich:o.rich}});
});
[[36,229,titleMinus],[35,534,titlePlus],[700,218,titleMinus],[700,535,titlePlus]].forEach(a=>{
  graphic.push({type:'text', x:a[0], y:a[1], rotation:Math.PI/2, silent:true, z:60,
    style:{text:a[2], rich:richY, align:'center', verticalAlign:'middle', fill:'#111', fontSize:22, fontFamily:FONT}});
});
[[382,720],[1045,719]].forEach(a=>{
  graphic.push({type:'text', x:a[0], y:a[1], silent:true, z:60,
    style:{text:'{n|Wavenumber / cm}{sup|-1}', rich:richX, align:'center', verticalAlign:'middle', fill:'#111', fontSize:21, fontFamily:FONT}});
});
boxes.forEach(b=>{
  const p1 = chart.convertToPixel({xAxisIndex:b.xi, yAxisIndex:b.yi},[b.w[0],b.v[1]]);
  const p2 = chart.convertToPixel({xAxisIndex:b.xi, yAxisIndex:b.yi},[b.w[1],b.v[0]]);
  graphic.push({type:'rect', silent:true, z:50,
    shape:{x:Math.min(p1[0],p2[0]), y:Math.min(p1[1],p2[1]), width:Math.abs(p2[0]-p1[0]), height:Math.abs(p2[1]-p1[1])},
    style:{fill:'none', stroke:b.c, lineWidth:1.1}});
});
arrows.forEach(a=>{
  const [x1,y1,x2,y2] = a;
  const ang = Math.atan2(y2-y1,x2-x1), L=12, W=4.5;
  const bx = x2-L*Math.cos(ang), by = y2-L*Math.sin(ang);
  const nx = -Math.sin(ang), ny = Math.cos(ang);
  graphic.push({type:'line', silent:true, z:50, shape:{x1,y1,x2:bx,y2:by}, style:{stroke:'#000', lineWidth:1}});
  graphic.push({type:'polygon', silent:true, z:50, shape:{points:[[x2,y2],[bx+nx*W,by+ny*W],[bx-nx*W,by-ny*W]]}, style:{fill:'#000'}});
});
chart.setOption({graphic});
</script></body></html>
